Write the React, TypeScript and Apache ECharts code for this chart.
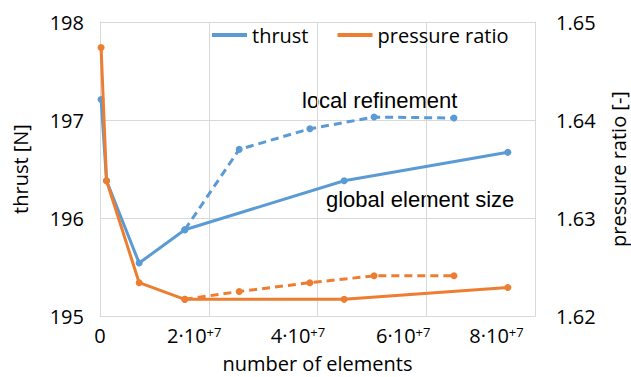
import React, { useEffect, useRef } from "react";
import * as echarts from "echarts";

// global element size study
const globalElements = [2e5, 1.2e6, 7.2e6, 1.56e7, 4.49e7, 7.5e7];
const globalThrust = [197.21, 196.38, 195.54, 195.88, 196.38, 196.67];
const globalPressure = [1.6474, 1.6338, 1.6234, 1.6217, 1.6217, 1.6229];

// local refinement study
const localElements = [1.56e7, 2.56e7, 3.86e7, 5.04e7, 6.51e7];
const localThrust = [195.88, 196.7, 196.91, 197.03, 197.02];
const localPressure = [1.6217, 1.6225, 1.6234, 1.6241, 1.6241];

const xTicks = [0, 2e7, 4e7, 6e7, 8e7];
const thrustTicks = [195, 196, 197, 198];
const pressureTicks = [1.62, 1.63, 1.64, 1.65];

const BLUE = "#5B9BD5";
const ORANGE = "#ED7D31";
const GRID = "#D9D9D9";
const CAL = "'Open Sans', 'Noto Sans', sans-serif";
const ARIAL = "'Liberation Sans', Arial, sans-serif";

export default function App() {
  const ref = useRef<HTMLDivElement>(null);
  useEffect(() => {
    document.body.style.margin = "0";
    const chart = echarts.init(ref.current!, undefined, { renderer: "svg" });
    const zip = (xs: number[], ys: number[]) => xs.map((x, i) => [x, ys[i]]);
    chart.setOption({
      animation: false,
      backgroundColor: "#fff",
      grid: { left: 100, right: 96, top: 22, bottom: 61, containLabel: false, outerBoundsMode: "none" },
      legend: {
        data: ["thrust", "pressure ratio"],
        left: 212,
        top: 25,
        padding: 0,
        icon: "rect",
        itemWidth: 35,
        itemHeight: 4,
        itemGap: 29,
        textStyle: { fontFamily: CAL, fontSize: 20, color: "#000" },
      },
      xAxis: {
        type: "value",
        min: xTicks[0],
        max: xTicks[xTicks.length - 1],
        interval: xTicks[1] - xTicks[0],
        name: "number of elements",
        nameLocation: "middle",
        nameGap: 37,
        nameTextStyle: { fontFamily: CAL, fontSize: 20, color: "#000" },
        axisLine: { show: true, lineStyle: { color: GRID, width: 1 } },
        axisTick: { show: false },
        splitLine: { show: true, lineStyle: { color: GRID, width: 1 } },
        axisLabel: {
          margin: 9,
          formatter: (v: number) => {
            if (v === 0) return "{n|0}";
            const k = Math.round(v / 1e7);
            return `{n|${k}·10}{s|+7}{p${k}| }`;
          },
          rich: {
            n: { fontFamily: CAL, fontSize: 20, lineHeight: 20, color: "#000" },
            s: { fontFamily: CAL, fontSize: 13, lineHeight: 13, color: "#000", verticalAlign: "top" },
            p2: { width: 29, fontSize: 10 },
            p4: { width: 39, fontSize: 10 },
            p6: { width: 46, fontSize: 10 },
            p8: { width: 77, fontSize: 10 },
          },
        },
      },
      yAxis: [
        {
          type: "value",
          min: thrustTicks[0],
          max: thrustTicks[thrustTicks.length - 1],
          interval: 1,
          name: "thrust [N]",
          nameLocation: "middle",
          nameRotate: 90,
          nameGap: 70,
          nameTextStyle: { fontFamily: CAL, fontSize: 20, color: "#000" },
          axisLine: { show: true, lineStyle: { color: GRID, width: 1 } },
          axisTick: { show: false },
          splitLine: { show: true, lineStyle: { color: GRID, width: 1 } },
          axisLabel: { margin: 16, fontFamily: CAL, fontSize: 20, color: "#000" },
        },
        {
          type: "value",
          min: pressureTicks[0],
          max: pressureTicks[pressureTicks.length - 1],
          interval: 0.01,
          name: "pressure ratio [-]",
          nameLocation: "middle",
          nameRotate: 90,
          nameGap: 73,
          nameTextStyle: { fontFamily: CAL, fontSize: 20, color: "#000" },
          axisLine: { show: true, lineStyle: { color: GRID, width: 1 } },
          axisTick: { show: false },
          splitLine: { show: false },
          axisLabel: {
            margin: 21,
            fontFamily: CAL,
            fontSize: 20,
            color: "#000",
            formatter: (v: number) => v.toFixed(2),
          },
        },
      ],
      graphic: [
        {
          type: "text",
          left: 302,
          top: 89,
          style: { text: "local refinement", font: `22px ${ARIAL}`, fill: "#000" },
        },
        {
          type: "text",
          left: 326,
          top: 188,
          style: { text: "global element size", font: `22px ${ARIAL}`, fill: "#000" },
        },
      ],
      series: [
        {
          name: "thrust",
          type: "line",
          yAxisIndex: 0,
          data: zip(globalElements, globalThrust),
          color: BLUE,
          symbol: "circle",
          symbolSize: 7,
          clip: false,
          lineStyle: { width: 3, color: BLUE },
          itemStyle: { color: BLUE },
          z: 2,
        },
        {
          name: "thrust local",
          type: "line",
          yAxisIndex: 0,
          data: zip(localElements, localThrust),
          color: BLUE,
          symbol: "circle",
          symbolSize: 7,
          clip: false,
          lineStyle: { width: 3, color: BLUE, type: [8, 5] },
          itemStyle: { color: BLUE },
          z: 2,
        },
        {
          name: "pressure ratio local",
          type: "line",
          yAxisIndex: 1,
          data: zip(localElements, localPressure),
          color: ORANGE,
          symbol: "circle",
          symbolSize: 7,
          clip: false,
          lineStyle: { width: 3, color: ORANGE, type: [8, 5] },
          itemStyle: { color: ORANGE },
          z: 3,
        },
        {
          name: "pressure ratio",
          type: "line",
          yAxisIndex: 1,
          data: zip(globalElements, globalPressure),
          color: ORANGE,
          symbol: "circle",
          symbolSize: 7,
          clip: false,
          lineStyle: { width: 3, color: ORANGE },
          itemStyle: { color: ORANGE },
          z: 3,
        },
      ],
    });
    return () => chart.dispose();
  }, []);
  return <div ref={ref} style={{ position: "absolute", left: 0, top: 0, width: 631, height: 377 }} />;
}
